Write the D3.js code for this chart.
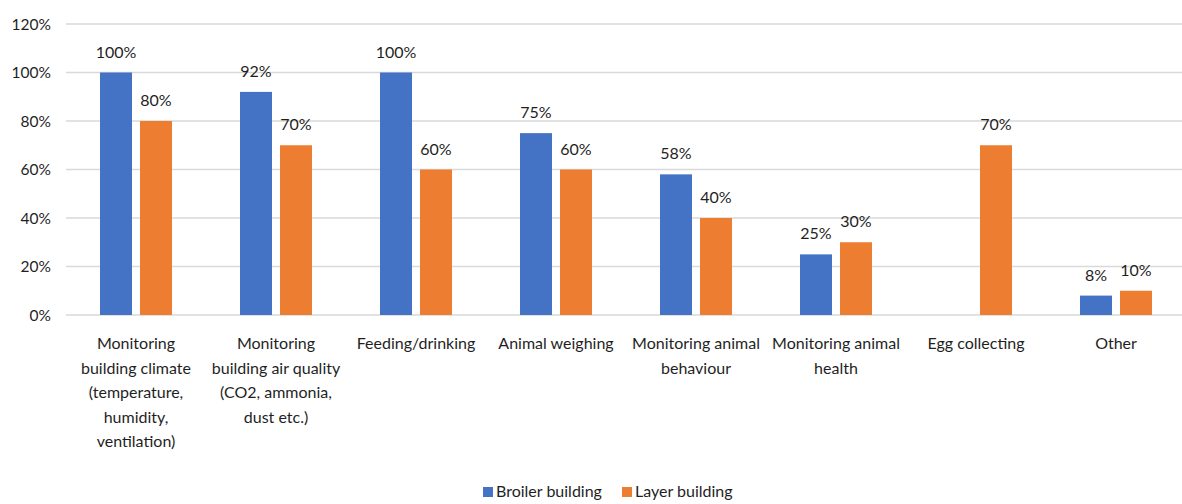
<!DOCTYPE html>
<html lang="en">

<head>
  <meta charset="UTF-8">
  <script src="https://d3js.org/d3.v7.min.js"></script>
  <style>
    body { margin: 0; background: #fff; }
    text { font-family: Lato, "Open Sans", sans-serif; fill: #1f1f1f; }
  </style>
</head>

<body>
  <svg id="chart-svg" width="1182" height="504"></svg>

  <script>
    // data
    const categories = [
      ["Monitoring", "building climate", "(temperature,", "humidity,", "ventilation)"],
      ["Monitoring", "building air quality", "(CO2, ammonia,", "dust etc.)"],
      ["Feeding/drinking"],
      ["Animal weighing"],
      ["Monitoring animal", "behaviour"],
      ["Monitoring animal", "health"],
      ["Egg collecting"],
      ["Other"]
    ];
    const broiler = [100, 92, 100, 75, 58, 25, null, 8];
    const layer = [80, 70, 60, 60, 40, 30, 70, 10];
    const seriesNames = ["Broiler building", "Layer building"];
    const colors = ["#4472c4", "#ed7d31"];
    const yTicks = [0, 20, 40, 60, 80, 100, 120];

    const svg = d3.select("#chart-svg");
    const plotLeft = 66, plotTop = 24, plotBottom = 315, plotRight = 1186;

    const x = d3.scaleBand()
      .domain(d3.range(categories.length))
      .range([plotLeft, plotRight]);
    const sub = d3.scaleBand()
      .domain([0, 1])
      .range([x.bandwidth() / 2 - 36, x.bandwidth() / 2 + 36])
      .paddingInner(0.2);
    const y = d3.scaleLinear().domain([0, 120]).range([plotBottom, plotTop]);

    // gridlines
    svg.append("g").selectAll("line").data(yTicks)
      .join("line")
      .attr("x1", plotLeft).attr("x2", 1182)
      .attr("y1", d => y(d)).attr("y2", d => y(d))
      .attr("stroke", "#d9d9d9")
      .attr("stroke-width", 1.5);

    // y tick labels
    svg.append("g").selectAll("text").data(yTicks)
      .join("text")
      .attr("x", 51)
      .attr("y", d => y(d) + 5.5)
      .attr("text-anchor", "end")
      .attr("font-size", 15.5)
      .text(d => d + "%");

    const series = [broiler, layer];
    series.forEach((vals, s) => {
      const rows = vals.map((v, i) => ({ v, i })).filter(d => d.v !== null);
      const g = svg.append("g");
      g.selectAll("rect").data(rows)
        .join("rect")
        .attr("x", d => x(d.i) + sub(s))
        .attr("y", d => y(d.v))
        .attr("width", sub.bandwidth())
        .attr("height", d => y(0) - y(d.v))
        .attr("fill", colors[s]);
      g.selectAll("text").data(rows)
        .join("text")
        .attr("x", d => x(d.i) + sub(s) + sub.bandwidth() / 2)
        .attr("y", d => y(d.v) - 15)
        .attr("text-anchor", "middle")
        .attr("font-size", 16)
        .text(d => d.v + "%");
    });

    // category labels
    const cat = svg.append("g").selectAll("text").data(categories)
      .join("text")
      .attr("x", (d, i) => x(i) + x.bandwidth() / 2)
      .attr("y", 349)
      .attr("text-anchor", "middle")
      .attr("font-size", 16);
    cat.selectAll("tspan").data(d => d)
      .join("tspan")
      .attr("x", function () { return d3.select(this.parentNode).attr("x"); })
      .attr("dy", (d, j) => j === 0 ? 0 : 24.5)
      .text(d => d);

    // legend
    const legend = svg.append("g");
    const legX = [483, 622];
    seriesNames.forEach((name, s) => {
      legend.append("rect")
        .attr("x", legX[s]).attr("y", 487)
        .attr("width", 10).attr("height", 10)
        .attr("fill", colors[s]);
      legend.append("text")
        .attr("x", legX[s] + 13).attr("y", 497)
        .attr("font-size", 16)
        .text(name);
    });
  </script>
</body>

</html>
